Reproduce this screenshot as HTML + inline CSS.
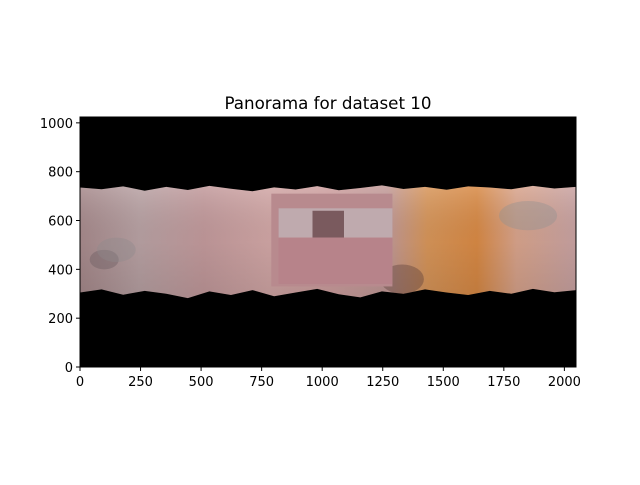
<!DOCTYPE html>
<html><head><meta charset="utf-8"><style>
body{margin:0;background:#fff}
svg text{font-family:"DejaVu Sans","Liberation Sans",sans-serif;fill:#000}
</style></head><body>
<svg id="chart" width="640" height="480" xmlns="http://www.w3.org/2000/svg">
<defs>
<linearGradient id="band" x1="0" x2="1" y1="0" y2="0">
<stop offset="0" stop-color="#a78a8c"/>
<stop offset="0.12" stop-color="#b9a2a4"/>
<stop offset="0.25" stop-color="#c39a9c"/>
<stop offset="0.38" stop-color="#d2a7a6"/>
<stop offset="0.5" stop-color="#cfa0a0"/>
<stop offset="0.62" stop-color="#c29a98"/>
<stop offset="0.7" stop-color="#d8965a"/>
<stop offset="0.8" stop-color="#d98a45"/>
<stop offset="0.88" stop-color="#d9a48c"/>
<stop offset="1" stop-color="#c9a3a3"/>
</linearGradient>
<linearGradient id="shade" x1="0" x2="0" y1="0" y2="1">
<stop offset="0" stop-color="#fff" stop-opacity="0.15"/>
<stop offset="0.5" stop-color="#000" stop-opacity="0.05"/>
<stop offset="1" stop-color="#000" stop-opacity="0.12"/>
</linearGradient>
</defs>
<text x="328" y="109" font-size="16.7" text-anchor="middle">Panorama for dataset 10</text>
<g id="plot"></g>
<g id="axes"></g>
</svg>
<script>
const xTicks=[0,250,500,750,1000,1250,1500,1750,2000];
const yTicks=[0,200,400,600,800,1000];
const xMax=2048, yMax=1024;
const topEdge=[735,728,740,722,738,725,742,730,720,736,727,741,724,733,744,729,738,726,740,735,728,742,731,738];
const botEdge=[305,318,296,312,300,282,310,295,315,290,305,320,298,285,310,300,318,305,295,312,300,320,306,315];
const L=80,R=576,T=117,B=367;
const sx=v=>L+v/xMax*(R-L), sy=v=>B-v/yMax*(B-T);
const NS="http://www.w3.org/2000/svg";
const plot=document.getElementById('plot'), axes=document.getElementById('axes');
function mk(tag,attrs,parent){const e=document.createElementNS(NS,tag);for(const k in attrs)e.setAttribute(k,attrs[k]);parent.appendChild(e);return e;}
const bg=mk('rect',{x:L,y:T,width:R-L,height:B-T,fill:'#000'},plot);


let pts=[];
topEdge.forEach((v,i)=>pts.push(sx(i/(topEdge.length-1)*xMax)+','+sy(v)));
for(let i=botEdge.length-1;i>=0;i--)pts.push(sx(i/(botEdge.length-1)*xMax)+','+sy(botEdge[i]));
const band=mk('polygon',{points:pts.join(' '),fill:'url(#band)'},plot);


const sh=mk('polygon',{points:pts.join(' '),fill:'url(#shade)'},plot);


[[100,440,60,40,'#6a5a60'],[150,480,80,50,'#8f8a8c'],[1330,360,90,60,'#5a3c38'],[1850,620,120,60,'#909090']].forEach(p=>{
 const e=mk('ellipse',{cx:sx(p[0]),cy:sy(p[1]),rx:p[2]*(R-L)/xMax,ry:p[3]*(B-T)/yMax,fill:p[4],opacity:0.4},plot);
 
 
});
const ph=mk('g',{},plot);


mk('rect',{x:sx(790),y:sy(710),width:sx(1290)-sx(790),height:sy(330)-sy(710),fill:'#b88a8e'},ph);
mk('rect',{x:sx(820),y:sy(650),width:sx(1290)-sx(820),height:sy(530)-sy(650),fill:'#bfaaae'},ph);
mk('rect',{x:sx(960),y:sy(640),width:sx(1090)-sx(960),height:sy(530)-sy(640),fill:'#7a5a5e'},ph);
mk('rect',{x:sx(820),y:sy(530),width:sx(1290)-sx(820),height:sy(340)-sy(530),fill:'#b7838a'},ph);
</script>
<script>
(function(){
const ax=document.getElementById('axes');
const frame=mk('rect',{x:L,y:T,width:R-L,height:B-T,fill:'none',stroke:'#000','stroke-width':1},ax);


xTicks.forEach(v=>{
 const x=sx(v);
 const t=mk('line',{x1:x,x2:x,y1:B,y2:B+4,stroke:'#000'},ax);
 
 
 const l=mk('text',{x:x,y:B+19,'font-size':13,'text-anchor':'middle'},ax);
 l.textContent=v;
 
 
});
yTicks.forEach(v=>{
 const y=sy(v);
 const t=mk('line',{x1:L-4,x2:L,y1:y,y2:y,stroke:'#000'},ax);
 
 
 const l=mk('text',{x:L-7,y:y+5,'font-size':13,'text-anchor':'end'},ax);
 l.textContent=v;
 
 
});
})();
</script>
</body></html>
